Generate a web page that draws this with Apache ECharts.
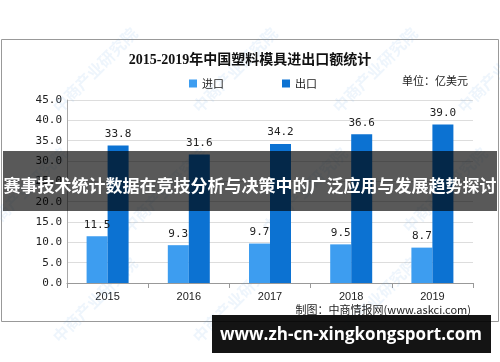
<!DOCTYPE html>
<html><head><meta charset="utf-8">
<script src="https://cdn.jsdelivr.net/npm/echarts@6/dist/echarts.min.js"></script>
<style>html,body{margin:0;padding:0;background:#fff}#c{width:500px;height:362px}</style>
</head><body><div id="c"></div>
<script>
const categories = ['2015','2016','2017','2018','2019'];
const importValues = [11.5, 9.3, 9.7, 9.5, 8.7];
const exportValues = [33.8, 31.6, 34.2, 36.6, 39.0];
const yTicks = [0,5,10,15,20,25,30,35,40,45];
const seriesNames = ['进口','出口'];
const titleText = '2015-2019年中国塑料模具进出口额统计';
const unitText = '单位：亿美元';
const sourceText = '制图：中商情报网(www.askci.com)';
const overlayText = '赛事技术统计数据在竞技分析与决策中的广泛应用与发展趋势探讨';
const urlText = 'www.zh-cn-xingkongsport.com';
const watermark = '中商产业研究院';

const chart = echarts.init(document.getElementById('c'), null, {renderer:'canvas'});
const mono = '"DejaVu Sans Mono","Liberation Mono",monospace';
const cjk = '"Noto Sans CJK SC","Noto Sans",sans-serif';

const wm = [];
const wmPos = [[95,70],[235,70],[375,70],[500,70],[25,190],[165,190],[305,190],[445,190],[95,300],[235,300],[375,300]];
wmPos.forEach(p => wm.push({type:'text', x:p[0], y:p[1], rotation:Math.PI/4, z:1, silent:true,
  style:{text:watermark, fill:'rgba(90,160,225,0.10)', fontSize:16, fontWeight:'bold', fontFamily:cjk, align:'center', verticalAlign:'middle'}}));

chart.setOption({
  animation:false,
  backgroundColor:'#fff',
  title:{text:titleText, left:'center', top:48,
    textStyle:{fontFamily:'"Liberation Serif","Noto Sans CJK SC",serif', fontWeight:'bold', fontSize:14, color:'#111'}},
  legend:{data:seriesNames, left:184, top:73, itemWidth:8, itemHeight:8, itemGap:58, icon:'rect',
    textStyle:{fontFamily:cjk, fontSize:11, color:'#222'}},
  grid:{left:67, right:27, top:100, bottom:79},
  xAxis:{type:'category', data:categories,
    axisLine:{lineStyle:{color:'#999'}}, axisTick:{show:true, lineStyle:{color:'#999'}},
    axisLabel:{fontFamily:'"Liberation Sans",Arial,sans-serif', fontSize:11, color:'#222', margin:8}},
  yAxis:{type:'value', min:yTicks[0], max:yTicks[yTicks.length-1], interval:yTicks[1]-yTicks[0],
    axisLine:{show:true, lineStyle:{color:'#aaa'}}, axisTick:{show:false},
    splitLine:{lineStyle:{color:'#ddd'}},
    axisLabel:{formatter:v=>v.toFixed(1), fontFamily:mono, fontSize:11, color:'#222', margin:5}},
  series:[
    {name:seriesNames[0], type:'bar', data:importValues, barWidth:21, barGap:'0%', z:3,
      itemStyle:{color:'#3D9DF0'},
      label:{show:true, position:'top', formatter:p=>p.value.toFixed(1), fontFamily:mono, fontSize:11, color:'#222', distance:6}},
    {name:seriesNames[1], type:'bar', data:exportValues, barWidth:21, z:3,
      itemStyle:{color:'#0C72D2'},
      label:{show:true, position:'top', formatter:p=>p.value.toFixed(1), fontFamily:mono, fontSize:11, color:'#222', distance:6}}
  ],
  graphic: wm.concat([
    {type:'rect', shape:{x:1.5, y:39.5, width:497, height:282}, z:0, silent:true,
      style:{fill:null, stroke:'#999', lineWidth:1}},
    {type:'text', x:468, y:81, z:5, style:{text:unitText, fontSize:11, fontFamily:cjk, fill:'#222', align:'right', verticalAlign:'middle'}},
    {type:'text', x:471, y:310, z:5, style:{text:sourceText, fontSize:11, fontFamily:cjk, fill:'#222', align:'right', verticalAlign:'middle'}},
    {type:'rect', shape:{x:3, y:151, width:494, height:60}, z:50, silent:true, style:{fill:'rgba(0,0,0,0.65)'}},
    {type:'text', x:250, y:186, z:51, style:{text:overlayText, fontSize:17, fontWeight:'bold', fontFamily:cjk, fill:'#fff', align:'center', verticalAlign:'middle'}},
    {type:'rect', shape:{x:212, y:315, width:279, height:38}, z:50, silent:true, style:{fill:'rgba(0,0,0,0.92)'}},
    {type:'text', x:351, y:335, z:51, style:{text:urlText, fontSize:17, fontWeight:'bold', fontFamily:'"Open Sans","Noto Sans",sans-serif', fill:'#fff', align:'center', verticalAlign:'middle'}}
  ])
});
</script></body></html>
